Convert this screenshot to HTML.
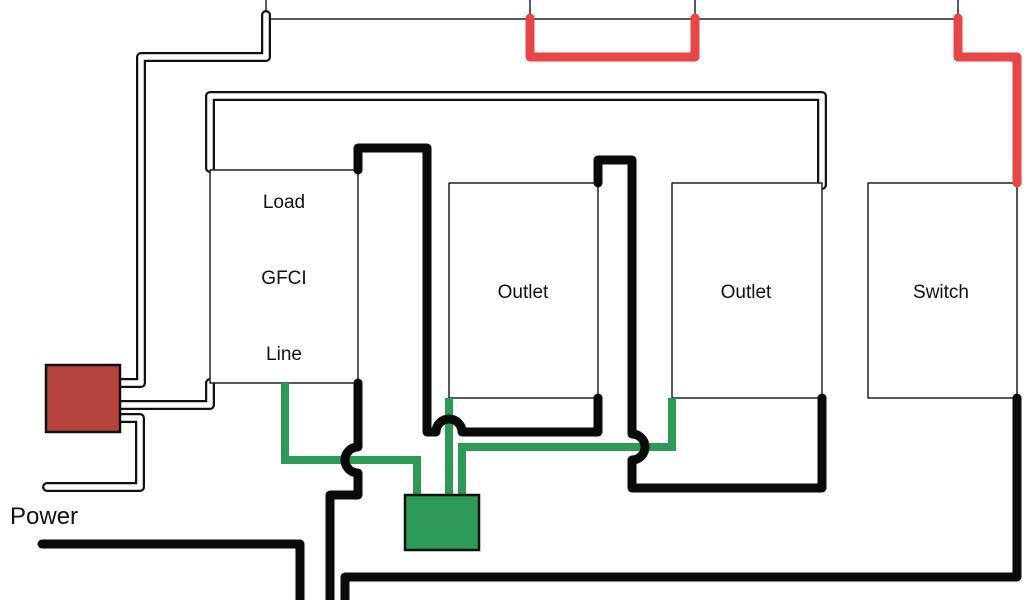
<!DOCTYPE html>
<html><head><style>body{margin:0;background:#fff}svg{display:block}</style></head>
<body>
<svg width="1024" height="600" viewBox="0 0 1024 600" xmlns="http://www.w3.org/2000/svg" font-family="Liberation Sans, sans-serif">
<g fill="none" stroke-linecap="round" stroke-linejoin="round">
<!-- thin top lines -->
<g stroke="#222" stroke-width="1.5">
<path d="M266 0V19H958M530 0V19M695 0V19M958 0V19"/>
</g>
<!-- white cables -->
<g stroke="#111" stroke-width="10">
<path d="M266 15V57H141V383H120"/>
<path d="M210 168V96H822V185"/>
<path d="M120 405H210V383"/>
<path d="M120 418H140V487H47"/>
</g>
<g stroke="#fff" stroke-width="5.5">
<path d="M266 15V57H141V383H120"/>
<path d="M210 168V96H822V185"/>
<path d="M120 405H210V383"/>
<path d="M120 418H140V487H47"/>
</g>
<!-- boxes -->
<g stroke="#222" stroke-width="1.5" fill="#fff">
<rect x="210" y="170" width="148" height="213"/>
<rect x="449" y="183" width="149" height="215"/>
<rect x="672" y="183" width="150" height="215"/>
<rect x="868" y="183" width="149" height="215"/>
</g>
<!-- red -->
<g stroke="#e84545" stroke-width="9">
<path d="M530 18V57H695V18"/>
<path d="M958 18V57H1017V183"/>
</g>
<!-- green -->
<g stroke="#2e9a58" stroke-width="8" stroke-linecap="butt" stroke-linejoin="miter">
<path d="M285 383V460H417V495"/>
<path d="M449 398V495"/>
<path d="M672 398V447H462V495"/>
</g>
<!-- black thick -->
<g stroke="#0a0a0a" stroke-width="9">
<path d="M358 170V148H427V432H436A13 13 0 0 1 462 432H598V398"/>
<path d="M598 183V160H632V434A13 13 0 0 1 632 460V488H822V398"/>
<path d="M358 383V447A13 13 0 0 0 358 473V495H330V600"/>
<path d="M42 544H300V600"/>
<path d="M345 600V577H1017V398"/>
</g>
</g>
<rect x="46" y="365" width="74" height="67" fill="#b5443c" stroke="#111" stroke-width="2.5"/>
<rect x="405" y="495" width="74" height="55" fill="#2e9a58" stroke="#111" stroke-width="2.5"/>
<g font-size="19" fill="#111" text-anchor="middle">
<text x="284" y="208">Load</text>
<text x="284" y="284">GFCI</text>
<text x="284" y="360">Line</text>
<text x="523" y="298">Outlet</text>
<text x="746" y="298">Outlet</text>
<text x="941" y="298">Switch</text>
</g>
<text x="10" y="524" font-size="24" fill="#111">Power</text>
</svg>
</body></html>
